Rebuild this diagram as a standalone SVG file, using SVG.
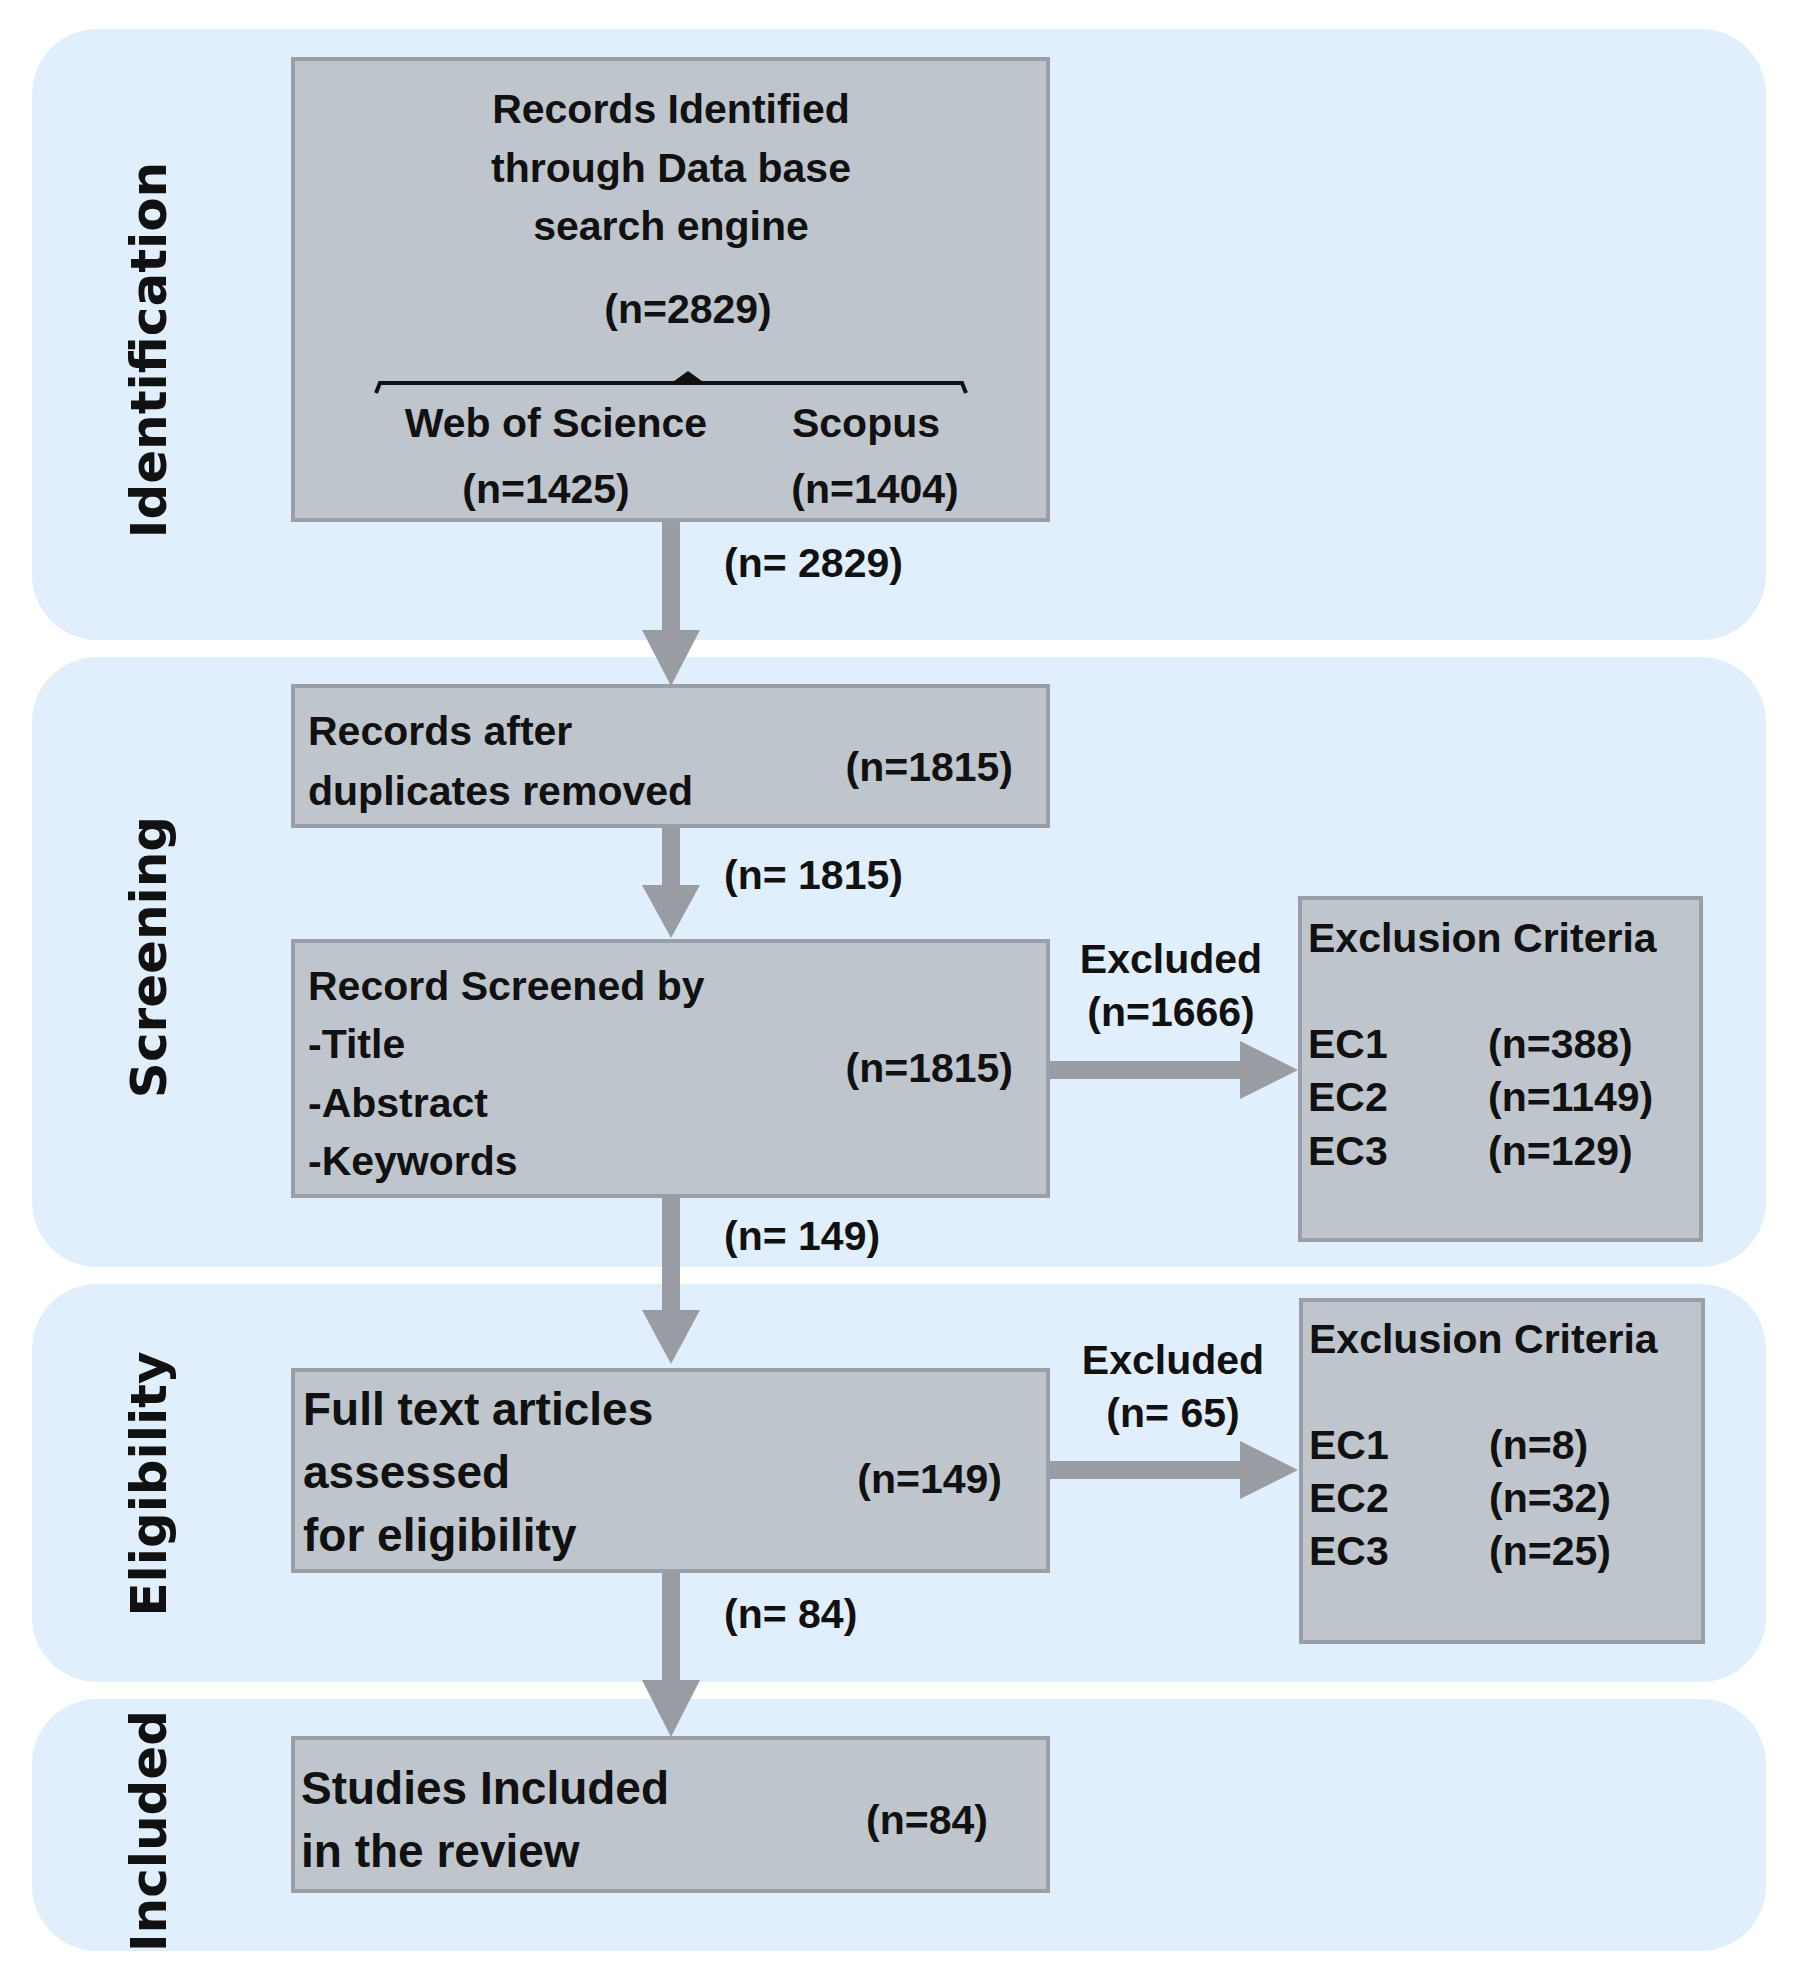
<svg xmlns="http://www.w3.org/2000/svg" width="1794" height="1970" viewBox="0 0 1794 1970">
<style>
.panel{fill:#e1effd}
.box{fill:#bfc5cd;stroke:#9a9ea6;stroke-width:4}
.t{font-family:"Liberation Sans",Arial,sans-serif;font-weight:bold;font-size:41px;fill:#111}
.big{font-size:46px}
.side{font-family:"DejaVu Sans",sans-serif;font-weight:bold;font-size:50px;fill:#111}
.c{text-anchor:middle}
.e{text-anchor:end}
.shaft{stroke:#999ca3;stroke-width:18;fill:none}
.head{fill:#999ca3}
</style>
<g id="panels">
<rect class="panel" x="32" y="29" width="1734" height="611" rx="65"/>
<rect class="panel" x="32" y="657" width="1734" height="610" rx="65"/>
<rect class="panel" x="32" y="1284" width="1734" height="398" rx="65"/>
<rect class="panel" x="32" y="1699" width="1734" height="252" rx="65"/>
<text class="side c" transform="translate(166,350) rotate(-90)">Identification</text>
<text class="side c" transform="translate(166,957) rotate(-90)">Screening</text>
<text class="side c" transform="translate(166,1484) rotate(-90)">Eligibility</text>
<text class="side c" transform="translate(166,1831) rotate(-90)">Included</text>
</g>
<g id="connectors">
<line class="shaft" x1="671" y1="522" x2="671" y2="640"/><polygon class="head" points="642,630 700,630 671,686"/>
<text class="t" x="724" y="577">(n= 2829)</text>
<line class="shaft" x1="671" y1="828" x2="671" y2="895"/><polygon class="head" points="642,885 700,885 671,938"/>
<text class="t" x="724" y="889">(n= 1815)</text>
<line class="shaft" x1="1050" y1="1070" x2="1250" y2="1070"/><polygon class="head" points="1240,1041 1240,1099 1298,1070"/>
<text class="t c" x="1171" y="973">Excluded</text><text class="t c" x="1171" y="1026">(n=1666)</text>
<line class="shaft" x1="671" y1="1198" x2="671" y2="1320"/><polygon class="head" points="642,1310 700,1310 671,1364"/>
<text class="t" x="724" y="1250">(n= 149)</text>
<line class="shaft" x1="1050" y1="1470" x2="1250" y2="1470"/><polygon class="head" points="1240,1441 1240,1499 1298,1470"/>
<text class="t c" x="1173" y="1374">Excluded</text><text class="t c" x="1173" y="1427">(n= 65)</text>
<line class="shaft" x1="671" y1="1573" x2="671" y2="1690"/><polygon class="head" points="642,1680 700,1680 671,1737"/>
<text class="t" x="724" y="1628">(n= 84)</text>
</g>
<g id="box1">
<rect class="box" x="293" y="59" width="755" height="461"/>
<text class="t c" x="671" y="123">Records Identified</text>
<text class="t c" x="671" y="182">through Data base</text>
<text class="t c" x="671" y="240">search engine</text>
<text class="t c" x="688" y="323">(n=2829)</text>
<path d="M376,393 L380,383 L962,383 L966,393" fill="none" stroke="#111" stroke-width="4"/>
<polygon points="670,384 688,371 706,384" fill="#111"/>
<text class="t c" x="556" y="437">Web of Science</text>
<text class="t c" x="866" y="437">Scopus</text>
<text class="t c" x="546" y="503">(n=1425)</text>
<text class="t c" x="875" y="503">(n=1404)</text>
</g>
<g id="box2">
<rect class="box" x="293" y="686" width="755" height="140"/>
<text class="t" x="308" y="745">Records after</text>
<text class="t" x="308" y="805">duplicates removed</text>
<text class="t e" x="1013" y="781">(n=1815)</text>
</g>
<g id="box3">
<rect class="box" x="293" y="941" width="755" height="255"/>
<text class="t" x="308" y="1000">Record Screened by</text>
<text class="t" x="308" y="1058">-Title</text>
<text class="t" x="308" y="1117">-Abstract</text>
<text class="t" x="308" y="1175">-Keywords</text>
<text class="t e" x="1013" y="1082">(n=1815)</text>
</g>
<g id="ec1">
<rect class="box" x="1300" y="898" width="401" height="342"/>
<text class="t" x="1308" y="952">Exclusion Criteria</text>
<text class="t" x="1308" y="1058">EC1</text><text class="t" x="1488" y="1058">(n=388)</text>
<text class="t" x="1308" y="1111">EC2</text><text class="t" x="1488" y="1111">(n=1149)</text>
<text class="t" x="1308" y="1165">EC3</text><text class="t" x="1488" y="1165">(n=129)</text>
</g>
<g id="box4">
<rect class="box" x="293" y="1370" width="755" height="201"/>
<text class="t big" x="303" y="1425">Full text articles</text>
<text class="t big" x="303" y="1488">assessed</text>
<text class="t big" x="303" y="1551">for eligibility</text>
<text class="t e" x="1002" y="1493">(n=149)</text>
</g>
<g id="ec2">
<rect class="box" x="1301" y="1300" width="402" height="342"/>
<text class="t" x="1309" y="1353">Exclusion Criteria</text>
<text class="t" x="1309" y="1459">EC1</text><text class="t" x="1489" y="1459">(n=8)</text>
<text class="t" x="1309" y="1512">EC2</text><text class="t" x="1489" y="1512">(n=32)</text>
<text class="t" x="1309" y="1565">EC3</text><text class="t" x="1489" y="1565">(n=25)</text>
</g>
<g id="box5">
<rect class="box" x="293" y="1738" width="755" height="153"/>
<text class="t big" x="301" y="1804">Studies Included</text>
<text class="t big" x="301" y="1867">in the review</text>
<text class="t e" x="988" y="1834">(n=84)</text>
</g>
</svg>
